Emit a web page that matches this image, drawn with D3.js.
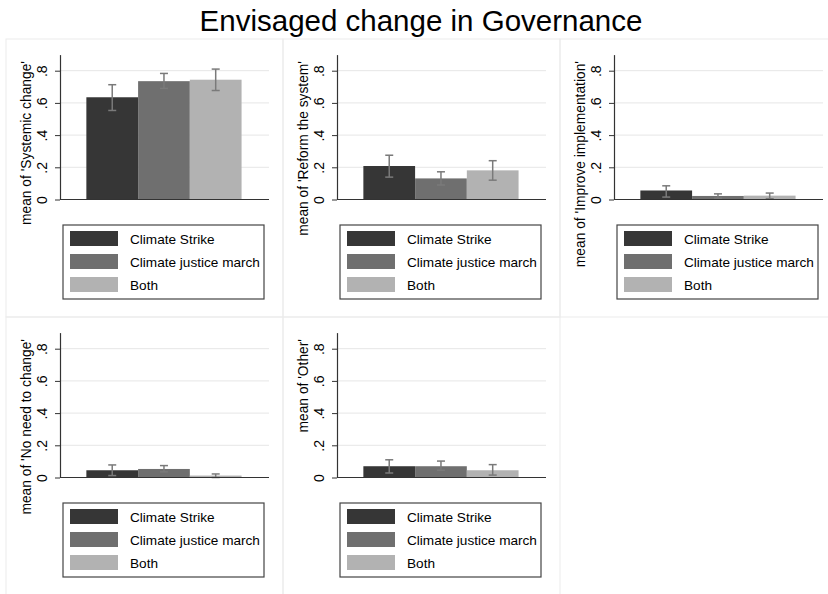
<!DOCTYPE html>
<html>
<head>
<meta charset="utf-8">
<script src="https://cdn.jsdelivr.net/npm/d3@7"></script>
<style>
  html, body { margin: 0; padding: 0; background: #fff; }
  svg { display: block; font-family: "Liberation Sans", Arial, Helvetica, sans-serif; }
</style>
</head>
<body>
<svg id="chart" width="828" height="594"></svg>
<script>
// Groups compared in every panel
const groups = ["Climate Strike", "Climate justice march", "Both"];

// One panel per envisaged change
const outcomes = ["Systemic change", "Reform the system", "Improve implementation", "No need to change", "Other"];

// Group means and confidence interval bounds, per outcome
const systemicMean  = [0.635, 0.735, 0.744];
const systemicLow   = [0.553, 0.690, 0.677];
const systemicHigh  = [0.713, 0.783, 0.810];

const reformMean    = [0.208, 0.131, 0.181];
const reformLow     = [0.139, 0.090, 0.120];
const reformHigh    = [0.275, 0.172, 0.241];

const improveMean   = [0.056, 0.022, 0.024];
const improveLow    = [0.015, 0.008, 0.005];
const improveHigh   = [0.085, 0.035, 0.040];

const noNeedMean    = [0.045, 0.053, 0.012];
const noNeedLow     = [0.012, 0.035, 0.000];
const noNeedHigh    = [0.078, 0.074, 0.022];

const otherMean     = [0.070, 0.070, 0.045];
const otherLow      = [0.028, 0.045, 0.015];
const otherHigh     = [0.110, 0.102, 0.080];

const yTicks = [0, 0.2, 0.4, 0.6, 0.8];
const yTickLabels = ["0", ".2", ".4", ".6", ".8"];

const chartTitle = "Envisaged change in Governance";

const panels = [
  { name: outcomes[0], mean: systemicMean, low: systemicLow, high: systemicHigh },
  { name: outcomes[1], mean: reformMean,   low: reformLow,   high: reformHigh },
  { name: outcomes[2], mean: improveMean,  low: improveLow,  high: improveHigh },
  { name: outcomes[3], mean: noNeedMean,   low: noNeedLow,   high: noNeedHigh },
  { name: outcomes[4], mean: otherMean,    low: otherLow,    high: otherHigh }
];

const colors = d3.scaleOrdinal().domain(groups).range(["#363636", "#6f6f6f", "#b2b2b2"]);

const svg = d3.select("#chart");

// Overall title
svg.append("text")
  .attr("x", 421)
  .attr("y", 31)
  .attr("text-anchor", "middle")
  .attr("font-size", 29.5)
  .attr("fill", "#000")
  .text(chartTitle);

// Panel grid geometry
const panelW = 277, panelH = 278;
const gridLeft = 6, gridTop = 39;
const axisOffset = 54;      // y axis position inside a panel
const plotW = 209;          // x axis length
const zeroOffset = 160.5;   // baseline position inside a panel
const unitPx = 161;         // pixels per unit of the mean

panels.forEach((p, i) => {
  const col = i % 3, row = Math.floor(i / 3);
  const px = gridLeft + col * panelW;
  const py = gridTop + row * panelH;

  const g = svg.append("g").attr("transform", `translate(${px},${py})`);

  // faint panel frame
  g.append("rect")
    .attr("x", 0).attr("y", 0)
    .attr("width", panelW).attr("height", panelH)
    .attr("fill", "none")
    .attr("stroke", "#ebebeb")
    .attr("stroke-width", 1);

  const plot = g.append("g").attr("transform", `translate(${axisOffset},0)`);

  const y = d3.scaleLinear()
    .domain([0, 0.9])
    .range([zeroOffset, zeroOffset - 0.9 * unitPx]);

  const x = d3.scaleBand()
    .domain(groups)
    .range([0, plotW])
    .paddingInner(0)
    .paddingOuter(0.52)
    .align(0.49);

  // horizontal grid lines
  plot.append("g")
    .selectAll("line")
    .data(yTicks.filter(t => t > 0))
    .join("line")
    .attr("x1", 0).attr("x2", plotW)
    .attr("y1", d => y(d)).attr("y2", d => y(d))
    .attr("stroke", "#e6e6e6")
    .attr("stroke-width", 1);

  // bars
  plot.append("g")
    .selectAll("rect")
    .data(groups)
    .join("rect")
    .attr("x", d => x(d))
    .attr("width", x.bandwidth())
    .attr("y", (d, k) => y(p.mean[k]))
    .attr("height", (d, k) => y(0) - y(p.mean[k]))
    .attr("fill", d => colors(d));

  // confidence intervals
  const capHalf = 4;
  const eb = plot.append("g")
    .attr("stroke", "#7a7a7a")
    .attr("stroke-width", 1.5)
    .selectAll("g")
    .data(groups)
    .join("g");
  eb.append("line")
    .attr("x1", d => x(d) + x.bandwidth() / 2)
    .attr("x2", d => x(d) + x.bandwidth() / 2)
    .attr("y1", (d, k) => y(p.low[k]))
    .attr("y2", (d, k) => y(p.high[k]));
  eb.append("line")
    .attr("x1", d => x(d) + x.bandwidth() / 2 - capHalf)
    .attr("x2", d => x(d) + x.bandwidth() / 2 + capHalf)
    .attr("y1", (d, k) => y(p.high[k]))
    .attr("y2", (d, k) => y(p.high[k]));
  eb.append("line")
    .attr("x1", d => x(d) + x.bandwidth() / 2 - capHalf)
    .attr("x2", d => x(d) + x.bandwidth() / 2 + capHalf)
    .attr("y1", (d, k) => y(p.low[k]))
    .attr("y2", (d, k) => y(p.low[k]));

  // y axis with vertical tick labels
  const yAxis = d3.axisLeft(y)
    .tickValues(yTicks)
    .tickSize(5)
    .tickSizeOuter(0)
    .tickFormat((d, k) => yTickLabels[k]);
  const ya = plot.append("g").call(yAxis);
  ya.select(".domain").attr("stroke", "#333").attr("stroke-width", 1.2);
  ya.selectAll(".tick line").attr("stroke", "#333");
  ya.selectAll(".tick text")
    .attr("x", null).attr("dy", null)
    .attr("transform", "translate(-13,0) rotate(-90)")
    .attr("text-anchor", "middle")
    .attr("font-size", 14)
    .attr("fill", "#000")
    .attr("font-family", "Liberation Sans, Arial, sans-serif");

  // x axis baseline
  plot.append("line")
    .attr("x1", 0).attr("x2", plotW)
    .attr("y1", y(0)).attr("y2", y(0))
    .attr("stroke", "#333")
    .attr("stroke-width", 1.2);

  // y axis title
  plot.append("text")
    .attr("transform", `translate(-29,22) rotate(-90)`)
    .attr("text-anchor", "end")
    .attr("font-size", 13.8)
    .attr("fill", "#000")
    .text(`mean of '${p.name}'`);

  // legend
  const lg = plot.append("g").attr("transform", "translate(3,186)");
  lg.append("rect")
    .attr("x", 0).attr("y", 0)
    .attr("width", 201).attr("height", 74)
    .attr("fill", "#fff")
    .attr("stroke", "#444")
    .attr("stroke-width", 1.2);
  const items = lg.selectAll("g.item")
    .data(groups)
    .join("g")
    .attr("class", "item")
    .attr("transform", (d, k) => `translate(7,${6 + k * 23})`);
  items.append("rect")
    .attr("width", 48).attr("height", 15)
    .attr("fill", d => colors(d));
  items.append("text")
    .attr("x", 60).attr("y", 12.5)
    .attr("font-size", 13.6)
    .attr("fill", "#000")
    .text(d => d);
});
</script>
</body>
</html>
